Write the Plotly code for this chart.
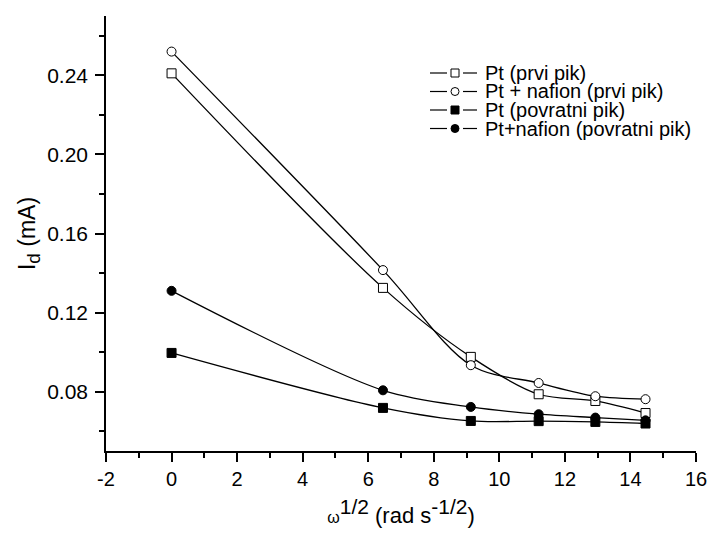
import plotly.graph_objects as go

# ---- data ----
omega_sqrt = [0, 6.45, 9.13, 11.2, 12.93, 14.46]
pt_prvi = [0.241, 0.1325, 0.0976, 0.0787, 0.0753, 0.0692]
pt_nafion_prvi = [0.252, 0.1415, 0.0934, 0.0844, 0.0777, 0.0762]
pt_povratni = [0.0996, 0.0718, 0.0652, 0.0651, 0.0647, 0.0639]
pt_nafion_povratni = [0.131, 0.0807, 0.0723, 0.0686, 0.0669, 0.0655]

series_names = ["Pt (prvi pik)", "Pt + nafion (prvi pik)",
                "Pt (povratni pik)", "Pt+nafion (povratni pik)"]
series_values = [pt_prvi, pt_nafion_prvi, pt_povratni, pt_nafion_povratni]
series_symbols = ["square", "circle", "square", "circle"]
series_fill = ["white", "white", "black", "black"]

x_tick_vals = list(range(-2, 17, 2))
x_tick_text = ["-2", "0", "2", "4", "6", "8", "10", "12", "14", "16"]
y_tick_vals = [0.08, 0.12, 0.16, 0.20, 0.24]
y_tick_text = ["0.08", "0.12", "0.16", "0.20", "0.24"]

FONT = "Arial, 'Liberation Sans', sans-serif"

fig = go.Figure()
for name, vals, sym, fill in zip(series_names, series_values, series_symbols, series_fill):
    fig.add_trace(go.Scatter(
        x=omega_sqrt, y=vals, name=name, mode="lines+markers",
        line=dict(color="black", width=1.3, shape="spline", smoothing=0.9),
        marker=dict(symbol=sym, size=9, color=fill, line=dict(color="black", width=1)),
        showlegend=False, cliponaxis=False,
    ))

# ---- manual legend (compact, like the reference) ----
L, W, T, H = 106, 590, 16, 435
def px(xp):
    return (xp - L) / W
def py(yp):
    return (T + H - yp) / H

row_y = [73, 91.5, 110, 128.5]
shapes = []
annotations = []
for name, sym, fill, ry in zip(series_names, series_symbols, series_fill, row_y):
    yp = py(ry)
    shapes.append(dict(type="line", xref="paper", yref="paper",
                       x0=px(430), x1=px(447), y0=yp, y1=yp,
                       line=dict(color="black", width=1.2)))
    shapes.append(dict(type="line", xref="paper", yref="paper",
                       x0=px(463), x1=px(477), y0=yp, y1=yp,
                       line=dict(color="black", width=1.2)))
    shapes.append(dict(type="rect" if sym == "square" else "circle",
                       xref="paper", yref="paper",
                       xsizemode="pixel", ysizemode="pixel",
                       xanchor=px(455), yanchor=yp,
                       x0=-4, x1=4, y0=-4, y1=4,
                       fillcolor=fill, line=dict(color="black", width=1)))
    annotations.append(dict(text=name, xref="paper", yref="paper",
                            x=px(483), y=yp, xanchor="left", yanchor="middle",
                            showarrow=False, font=dict(family=FONT, size=20, color="black")))

fig.update_layout(
    width=712, height=535,
    margin=dict(l=L, r=712 - L - W, t=T, b=535 - T - H),
    paper_bgcolor="white", plot_bgcolor="white",
    font=dict(family=FONT, color="black"),
    shapes=shapes, annotations=annotations,
    xaxis=dict(
        range=[-2, 16], tickvals=x_tick_vals, ticktext=x_tick_text, ticks="outside", ticklen=9, tickwidth=1.5,
        tickcolor="black", showline=True, linecolor="black", linewidth=1.5,
        showgrid=False, zeroline=False, tickfont=dict(size=20), ticklabelstandoff=0,
        minor=dict(dtick=1, tick0=0, ticks="outside", ticklen=5, tickwidth=1.5, tickcolor="black", showgrid=False),
        title=dict(text="<span style='font-size:16px'>ω</span><sup><span style='font-size:21px'>1/2</span></sup> (rad s<sup><span style='font-size:21px'>-1/2</span></sup>)",
                   font=dict(size=22), standoff=19),
        automargin=False,
    ),
    yaxis=dict(
        range=[0.05, 0.27], tickvals=y_tick_vals, ticktext=y_tick_text, ticks="outside",
        ticklen=9, tickwidth=1.5, tickcolor="black", showline=True, linecolor="black",
        linewidth=1.5, showgrid=False, zeroline=False, tickfont=dict(size=21), ticklabelstandoff=3,
        minor=dict(dtick=0.02, tick0=0, ticks="outside", ticklen=5, tickwidth=1.5, tickcolor="black", showgrid=False),
        title=dict(text="I<sub><span style='font-size:19px'>d</span></sub> (mA)", font=dict(size=23), standoff=5),
        automargin=False,
    ),
)

fig.write_html("out.html", config={"displayModeBar": False},
               post_script="document.body.style.margin='0';document.body.style.overflow='hidden';")
